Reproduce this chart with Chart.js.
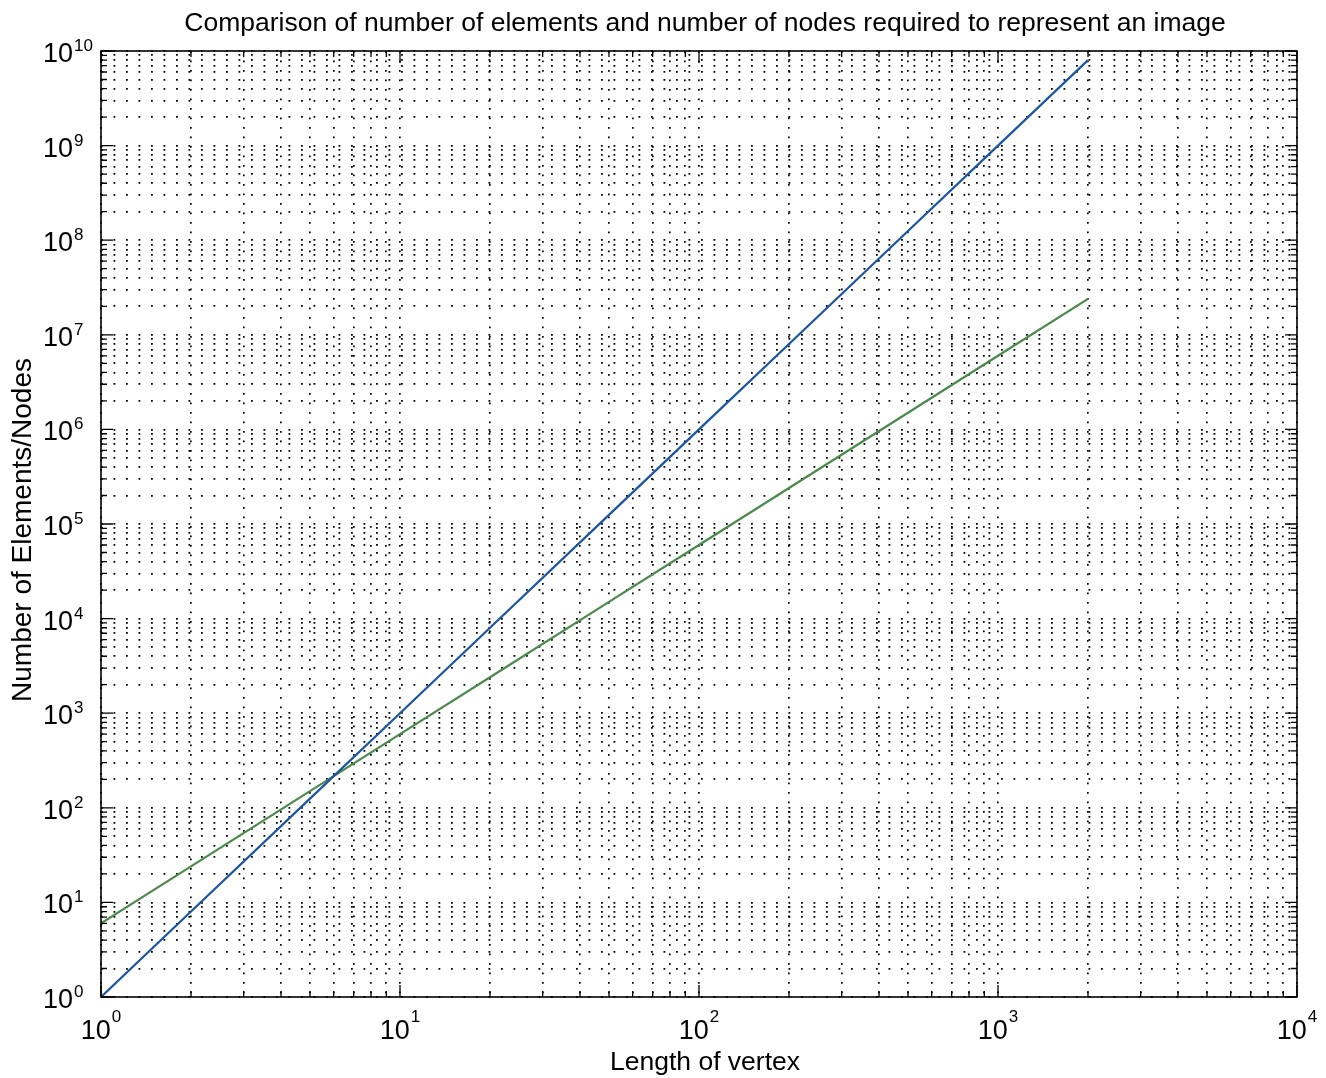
<!DOCTYPE html>
<html><head><meta charset="utf-8">
<script src="https://cdn.jsdelivr.net/npm/chart.js@4/dist/chart.umd.min.js"></script>
<style>html,body{margin:0;padding:0;background:#fff;} canvas{display:block;}</style>
</head><body>
<canvas id="c" width="1326" height="1078"></canvas>
<script>
// ---- data ----
const vertexLength = [1, 2, 5, 10, 20, 50, 100, 200, 500, 1000, 2000];
const numElements  = [1, 8, 125, 1000, 8000, 125000, 1e6, 8e6, 1.25e8, 1e9, 8e9];
const numNodes     = [6, 24, 150, 600, 2400, 15000, 60000, 240000, 1.5e6, 6e6, 2.4e7];
const xTickExponents = [0, 1, 2, 3, 4];
const yTickExponents = [0, 1, 2, 3, 4, 5, 6, 7, 8, 9, 10];
const titleText = 'Comparison of number of elements and number of nodes required to represent an image';
const xLabelText = 'Length of vertex';
const yLabelText = 'Number of Elements/Nodes';

const FONT = '"Liberation Sans", Arial, Helvetica, sans-serif';

function logTicks(exps) {
  const out = [];
  for (let i = 0; i < exps.length - 1; i++) {
    for (let m = 1; m <= 9; m++) out.push({ value: m * Math.pow(10, exps[i]) });
  }
  out.push({ value: Math.pow(10, exps[exps.length - 1]) });
  return out;
}

function toPoints(xs, ys) { return xs.map((x, i) => ({ x: x, y: ys[i] })); }

const matlabPlugin = {
  id: 'matlabLook',
  afterDatasetsDraw(chart) {
    const ctx = chart.ctx;
    const a = chart.chartArea;
    const xs = chart.scales.x, ys = chart.scales.y;
    ctx.save();
    ctx.strokeStyle = '#000';
    ctx.lineWidth = 1.6;
    ctx.setLineDash([]);
    // box
    ctx.strokeRect(a.left, a.top, a.right - a.left, a.bottom - a.top);
    // inside ticks
    ctx.lineWidth = 1.3;
    ctx.beginPath();
    xs.ticks.forEach(t => {
      const p = xs.getPixelForValue(t.value);
      const major = Math.abs(Math.log10(t.value) - Math.round(Math.log10(t.value))) < 1e-9;
      const len = major ? 12 : 6;
      ctx.moveTo(p, a.bottom); ctx.lineTo(p, a.bottom - len);
      ctx.moveTo(p, a.top); ctx.lineTo(p, a.top + len);
    });
    ys.ticks.forEach(t => {
      const p = ys.getPixelForValue(t.value);
      const major = Math.abs(Math.log10(t.value) - Math.round(Math.log10(t.value))) < 1e-9;
      const len = major ? 12 : 6;
      ctx.moveTo(a.left, p); ctx.lineTo(a.left + len, p);
      ctx.moveTo(a.right, p); ctx.lineTo(a.right - len, p);
    });
    ctx.stroke();

    // tick labels with superscripts
    ctx.fillStyle = '#000';
    const baseFont = '27px ' + FONT, supFont = '17px ' + FONT;
    xTickExponents.forEach(e => {
      const p = xs.getPixelForValue(Math.pow(10, e));
      ctx.font = baseFont; const wb = ctx.measureText('10').width;
      ctx.font = supFont; const ws = ctx.measureText(String(e)).width;
      const x0 = p - (wb + ws + 1) / 2;
      ctx.textAlign = 'left'; ctx.textBaseline = 'alphabetic';
      ctx.font = baseFont; ctx.fillText('10', x0, a.bottom + 42);
      ctx.font = supFont; ctx.fillText(String(e), x0 + wb + 1, a.bottom + 25);
    });
    yTickExponents.forEach(e => {
      const p = ys.getPixelForValue(Math.pow(10, e));
      ctx.textBaseline = 'alphabetic';
      ctx.font = baseFont; ctx.textAlign = 'right'; ctx.fillText('10', a.left - 28, p + 11);
      ctx.font = supFont; ctx.textAlign = 'left'; ctx.fillText(String(e), a.left - 27, p);
    });

    // title and axis labels
    ctx.textAlign = 'center'; ctx.textBaseline = 'alphabetic';
    ctx.font = '26.5px ' + FONT;
    ctx.fillText(titleText, 705, 31);
    ctx.fillText(xLabelText, 705, 1070);
    ctx.save();
    ctx.translate(31, 530);
    ctx.rotate(-Math.PI / 2);
    ctx.font = '28px ' + FONT;
    ctx.fillText(yLabelText, 0, 0);
    ctx.restore();
    ctx.restore();
  }
};

new Chart(document.getElementById('c'), {
  type: 'scatter',
  data: {
    datasets: [
      { label: 'Elements', data: toPoints(vertexLength, numElements), showLine: true,
        borderColor: '#1a55a3', borderWidth: 2.2, pointRadius: 0, fill: false, tension: 0 },
      { label: 'Nodes', data: toPoints(vertexLength, numNodes), showLine: true,
        borderColor: '#4a8a4a', borderWidth: 2.2, pointRadius: 0, fill: false, tension: 0 }
    ]
  },
  options: {
    responsive: false,
    animation: false,
    events: [],
    layout: { padding: { left: 101, top: 51, right: 29, bottom: 81 } },
    plugins: { legend: { display: false }, tooltip: { enabled: false }, title: { display: false } },
    scales: {
      x: {
        type: 'logarithmic', min: 1, max: 1e4,
        afterBuildTicks: s => { s.ticks = logTicks(xTickExponents); },
        ticks: { display: false },
        grid: { color: '#000', lineWidth: 1.7, drawTicks: false, tickLength: 0 },
        border: { display: false, dash: [1.8, 7.7] }
      },
      y: {
        type: 'logarithmic', min: 1, max: 1e10,
        afterBuildTicks: s => { s.ticks = logTicks(yTickExponents); },
        ticks: { display: false },
        grid: { color: '#000', lineWidth: 1.7, drawTicks: false, tickLength: 0 },
        border: { display: false, dash: [1.8, 10.7] }
      }
    }
  },
  plugins: [matlabPlugin]
});
</script>
</body></html>
